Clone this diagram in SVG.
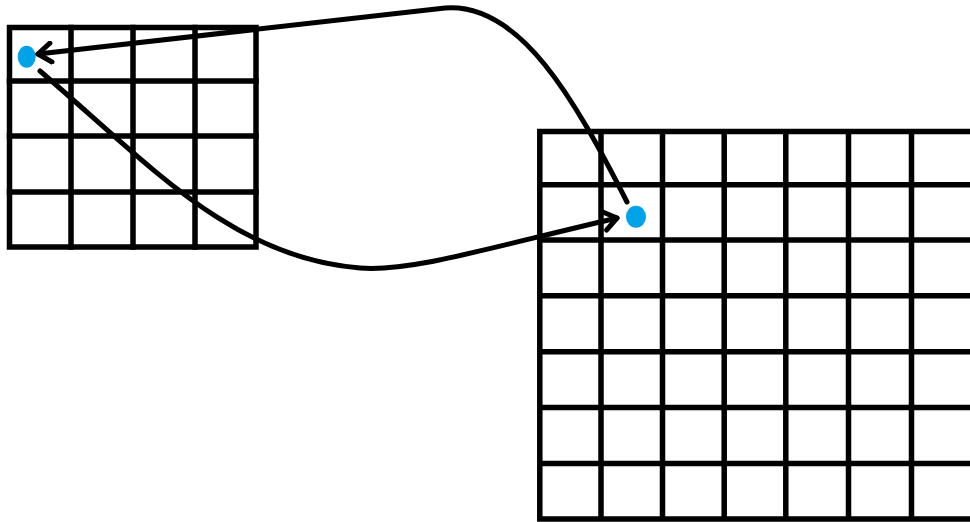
<svg xmlns="http://www.w3.org/2000/svg" width="970" height="522" viewBox="0 0 970 522">
<style>
.grid{fill:none;stroke:#000;stroke-width:5.5;stroke-linecap:square}
.conn{fill:none;stroke:#000;stroke-width:5;stroke-linecap:round;stroke-linejoin:round}
.dot{fill:#00A2E8}
</style>
<defs>
<marker id="arr" viewBox="-20 -12 24 24" markerWidth="24" markerHeight="24" refX="0" refY="0" orient="auto" markerUnits="userSpaceOnUse">
<path d="M-13,-9.5 L0,0 L-13,9.5" fill="none" stroke="#000" stroke-width="5" stroke-linecap="round" stroke-linejoin="round"/>
</marker>
</defs>
<rect width="970" height="522" fill="#fff"/>
<g id="small-grid">
<rect class="grid" x="9.5" y="27.5" width="246.5" height="219.5"/>
<path class="grid" d="M71,27.5V247 M133,27.5V247 M195,27.5V247 M9.5,81H256 M9.5,136H256 M9.5,192H256"/>
<ellipse class="dot" cx="26.7" cy="56.7" rx="9" ry="11"/>
</g>
<g id="big-grid">
<path class="grid" d="M539.8,131.5H985 M539.8,184.8H985 M539.8,240H985 M539.8,295.8H985 M539.8,351.8H985 M539.8,407.5H985 M539.8,463.5H985 M539.8,519H985 M539.8,131.5V519 M601,131.5V519 M662.5,131.5V519 M724.2,131.5V519 M785.8,131.5V519 M848.5,131.5V519 M911.5,131.5V519"/>
<ellipse class="dot" cx="636" cy="216.7" rx="10" ry="11"/>
</g>
<g id="connectors">
<path class="conn" marker-end="url(#arr)" d="M627,202 C575,100 520,2 445,8 L38,54"/>
<path class="conn" marker-end="url(#arr)" d="M40,71 C150,165 232,258 360,268 C410,272 480,250 617,218"/>
</g>
</svg>
